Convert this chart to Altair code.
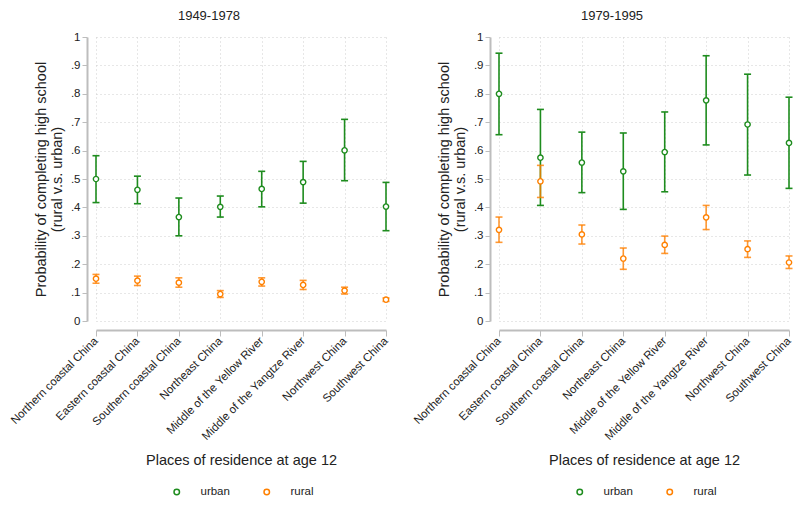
import altair as alt
import pandas as pd

regions = ["Northern coastal China", "Eastern coastal China", "Southern coastal China",
           "Northeast China", "Middle of the Yellow River", "Middle of the Yangtze River",
           "Northwest China", "Southwest China"]
groups = ["urban", "rural"]
periods = ["1949-1978", "1979-1995"]

# 1949-1978
p1_urban_est = [0.500, 0.462, 0.366, 0.402, 0.465, 0.489, 0.601, 0.403]
p1_urban_lo = [0.417, 0.413, 0.300, 0.366, 0.402, 0.415, 0.494, 0.318]
p1_urban_hi = [0.582, 0.510, 0.433, 0.440, 0.527, 0.562, 0.710, 0.488]
p1_rural_est = [0.149, 0.142, 0.135, 0.095, 0.138, 0.127, 0.107, 0.075]
p1_rural_lo = [0.133, 0.125, 0.119, 0.083, 0.123, 0.111, 0.095, 0.069]
p1_rural_hi = [0.164, 0.158, 0.152, 0.107, 0.152, 0.143, 0.119, 0.081]

# 1979-1995
p2_urban_est = [0.800, 0.575, 0.558, 0.527, 0.595, 0.777, 0.692, 0.627]
p2_urban_lo = [0.656, 0.407, 0.452, 0.393, 0.455, 0.620, 0.514, 0.467]
p2_urban_hi = [0.943, 0.745, 0.665, 0.662, 0.736, 0.934, 0.869, 0.788]
p2_rural_est = [0.321, 0.492, 0.305, 0.220, 0.268, 0.365, 0.253, 0.206]
p2_rural_lo = [0.277, 0.435, 0.271, 0.182, 0.238, 0.322, 0.224, 0.185]
p2_rural_hi = [0.366, 0.548, 0.338, 0.257, 0.299, 0.407, 0.282, 0.229]

green = "#1e8c1e"
orange = "#ff8000"
FONT = "Liberation Sans"

rows = []
series = {
    ("1949-1978", "urban"): (p1_urban_est, p1_urban_lo, p1_urban_hi),
    ("1949-1978", "rural"): (p1_rural_est, p1_rural_lo, p1_rural_hi),
    ("1979-1995", "urban"): (p2_urban_est, p2_urban_lo, p2_urban_hi),
    ("1979-1995", "rural"): (p2_rural_est, p2_rural_lo, p2_rural_hi),
}
for (per, grp), (est, lo, hi) in series.items():
    for r, e, l, h in zip(regions, est, lo, hi):
        rows.append({"period": per, "group": grp, "region": r, "est": e, "lo": l, "hi": h})
df = pd.DataFrame(rows)

label_expr = "datum.value == 0 ? '0' : datum.value == 1 ? '1' : replace(format(datum.value, '.1f'), '0.', '.')"


def panel(per):
    base = alt.Chart(df[df.period == per])
    x = alt.X("region:N", sort=regions,
              scale=alt.Scale(type="point", padding=0),
              axis=alt.Axis(title="Places of residence at age 12", labelAngle=-45,
                            labelAlign="right", labelBaseline="middle", labelPadding=3,
                            offset=9, grid=True, tickSize=6, titlePadding=11))
    yaxis = alt.Axis(title=["Probability of completing high school", "(rural v.s. urban)"],
                     values=[i / 10 for i in range(11)], labelExpr=label_expr,
                     offset=9, grid=True, tickSize=5, titlePadding=6)
    yscale = alt.Scale(domain=[0, 1], nice=False, zero=True)
    cscale = alt.Scale(domain=groups, range=[green, orange])
    color = alt.Color("group:N", scale=cscale,
                      legend=alt.Legend(title=None, orient="none", direction="horizontal",
                                        legendX=75, legendY=449, symbolType="circle",
                                        symbolSize=30, symbolStrokeWidth=1.5,
                                        labelOffset=18, columnPadding=31,
                                        labelFontSize=11.5, labelFont=FONT,
                                        labelColor="#222222"))
    opacity = alt.Opacity("group:N", scale=alt.Scale(domain=groups, range=[1.0, 0.8]),
                          legend=None)
    pts = base.mark_point(shape="circle", filled=False, fill="white", fillOpacity=1,
                          size=28, strokeWidth=1.4, opacity=1).encode(
        x=x, y=alt.Y("est:Q", scale=yscale, axis=yaxis), color=color)
    bars = base.mark_rule(strokeWidth=1.6).encode(
        x=x, y=alt.Y("lo:Q", scale=yscale, axis=yaxis), y2="hi:Q",
        color=color, opacity=opacity)
    cap_lo = base.mark_rule(strokeWidth=1.6, xOffset=-3.5, x2Offset=3.5).encode(
        x=x, x2="region:N", y=alt.Y("lo:Q", scale=yscale, axis=yaxis),
        color=color, opacity=opacity)
    cap_hi = base.mark_rule(strokeWidth=1.6, xOffset=-3.5, x2Offset=3.5).encode(
        x=x, x2="region:N", y=alt.Y("hi:Q", scale=yscale, axis=yaxis),
        color=color, opacity=opacity)
    return alt.layer(bars, cap_lo, cap_hi, pts).properties(
        width=290, height=284,
        title=alt.TitleParams(per, fontSize=13, fontWeight="normal", font=FONT,
                              anchor="middle", frame="group", dx=-32, offset=8,
                              color="#222222"))


chart = alt.hconcat(panel("1949-1978"), panel("1979-1995"), spacing=113,
                    bounds="flush").resolve_legend(
    color="independent").resolve_scale(color="independent").properties(
    padding={"left": 0, "top": 2, "right": -1, "bottom": -2}
).configure_view(stroke=None).configure_axis(
    labelFont=FONT, titleFont=FONT, labelFontSize=11.5, titleFontSize=14.5,
    titleFontWeight="normal", labelColor="#222222", titleColor="#222222",
    domainColor="#bdbdbd", domainWidth=2, tickColor="#bdbdbd", tickWidth=1,
    gridColor="#cfcfcf", gridDash=[1, 3], gridWidth=1, titleLineHeight=16
)

chart.save("out.html", embed_options={"renderer": "svg", "actions": False})
